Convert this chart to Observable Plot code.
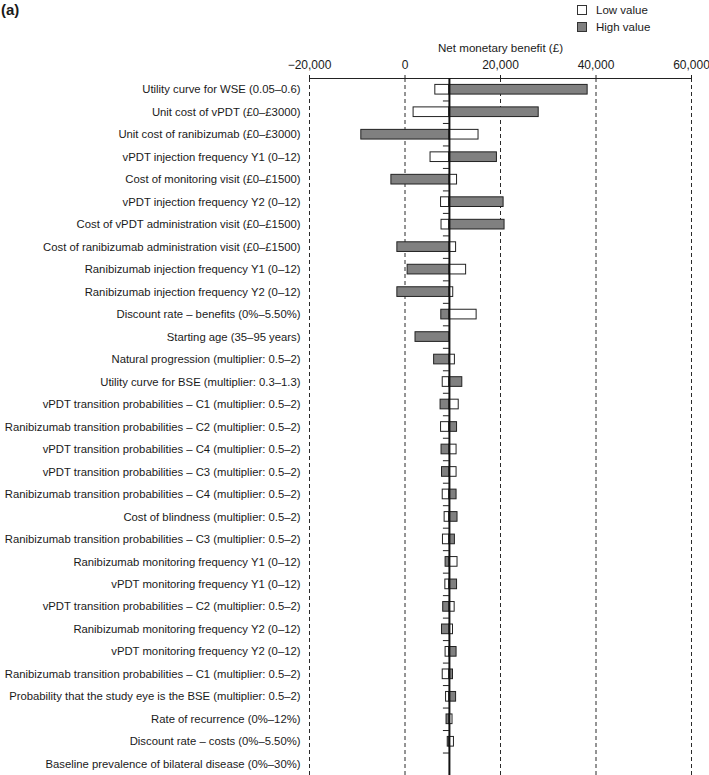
<!DOCTYPE html>
<html>
<head>
<meta charset="utf-8">
<script src="https://cdn.jsdelivr.net/npm/d3@7"></script>
<script src="https://cdn.jsdelivr.net/npm/@observablehq/plot@0.6"></script>
<style>
  body { margin: 0; background: #fff; font-family: "Liberation Sans", Arial, Helvetica, sans-serif; color: #1a1a1a; }
  #wrap { position: relative; width: 709px; height: 775px; }
  #panel { position: absolute; left: 1px; top: 1px; font-weight: bold; font-size: 15px; }
  .leg { position: absolute; left: 577px; font-size: 11.5px; display: flex; align-items: center; }
  .sw { width: 8px; height: 8px; border: 1px solid #333; margin-right: 9px; box-sizing: content-box; }
</style>
</head>
<body>
<div id="wrap">
  <div id="panel">(a)</div>
  <div class="leg" style="top:4px"><div class="sw" style="background:#fff"></div><span id="lowName"></span></div>
  <div class="leg" style="top:21px"><div class="sw" style="background:#808080"></div><span id="highName"></span></div>
</div>
<script>
const axisTitle = "Net monetary benefit (£)";
const seriesNames = ["Low value", "High value"];
const xTicks = [-20000, 0, 20000, 40000, 60000];
const baseValue = 9300;

const parameters = [
  "Utility curve for WSE (0.05–0.6)",
  "Unit cost of vPDT (£0–£3000)",
  "Unit cost of ranibizumab (£0–£3000)",
  "vPDT injection frequency Y1 (0–12)",
  "Cost of monitoring visit (£0–£1500)",
  "vPDT injection frequency Y2 (0–12)",
  "Cost of vPDT administration visit (£0–£1500)",
  "Cost of ranibizumab administration visit (£0–£1500)",
  "Ranibizumab injection frequency Y1 (0–12)",
  "Ranibizumab injection frequency Y2 (0–12)",
  "Discount rate – benefits (0%–5.50%)",
  "Starting age (35–95 years)",
  "Natural progression (multiplier: 0.5–2)",
  "Utility curve for BSE (multiplier: 0.3–1.3)",
  "vPDT transition probabilities – C1 (multiplier: 0.5–2)",
  "Ranibizumab transition probabilities – C2 (multiplier: 0.5–2)",
  "vPDT transition probabilities – C4 (multiplier: 0.5–2)",
  "vPDT transition probabilities – C3 (multiplier: 0.5–2)",
  "Ranibizumab transition probabilities – C4 (multiplier: 0.5–2)",
  "Cost of blindness (multiplier: 0.5–2)",
  "Ranibizumab transition probabilities – C3 (multiplier: 0.5–2)",
  "Ranibizumab monitoring frequency Y1 (0–12)",
  "vPDT monitoring frequency Y1 (0–12)",
  "vPDT transition probabilities – C2 (multiplier: 0.5–2)",
  "Ranibizumab monitoring frequency Y2 (0–12)",
  "vPDT monitoring frequency Y2 (0–12)",
  "Ranibizumab transition probabilities – C1 (multiplier: 0.5–2)",
  "Probability that the study eye is the BSE (multiplier: 0.5–2)",
  "Rate of recurrence (0%–12%)",
  "Discount rate – costs (0%–5.50%)",
  "Baseline prevalence of bilateral disease (0%–30%)"
];

const lowValues = [
  6350, 1800, 15400, 5350, 10900, 7550, 7650, 10700, 12800, 10100,
  15000, 9300, 10450, 7900, 11250, 7550, 10800, 10800, 7900, 8300,
  7950, 11000, 8450, 10400, 10050, 8500, 7900, 8600, 9950, 10250,
  9300
];
const highValues = [
  38250, 28000, -9150, 19250, -2850, 20650, 20850, -1600, 550, -1600,
  7600, 2200, 6100, 12000, 7450, 10900, 7650, 7750, 10800, 11000,
  10450, 8500, 10900, 8000, 7750, 10800, 10050, 10700, 8700, 8950,
  9300
];

document.getElementById("lowName").textContent = seriesNames[0];
document.getElementById("highName").textContent = seriesNames[1];

const rows = parameters.map((p, i) => ({i, p, low: lowValues[i], high: highValues[i]}));
const half = 0.215;
const W = 709, ML = 309, MR = 18;
const tickLen = 6 * (xTicks[xTicks.length - 1] - xTicks[0]) / (W - ML - MR);
const boundaries = d3.range(0.5, parameters.length, 1);

const chart = Plot.plot({
  width: W,
  height: 775,
  marginLeft: ML,
  marginRight: MR,
  marginTop: 78,
  marginBottom: 0,
  style: {fontFamily: "'Liberation Sans', Arial, Helvetica, sans-serif", fontSize: "11.3px", color: "#1a1a1a", background: "transparent"},
  x: {domain: [xTicks[0], xTicks[xTicks.length - 1]]},
  y: {domain: [-0.5, parameters.length - 0.5], reverse: true},
  marks: [
    Plot.ruleX(xTicks, {stroke: "#2a2a2a", strokeWidth: 1, strokeDasharray: "4,3"}),
    Plot.ruleY([-0.5], {stroke: "#222", strokeWidth: 1.2}),
    Plot.axisX(xTicks, {anchor: "top", tickSize: 4, tickPadding: 6, stroke: "#222", fontSize: 12, label: null, tickFormat: d3.format(",")}),
    Plot.text([axisTitle], {frameAnchor: "top", dy: -35, fontSize: 11.6, fill: "#1a1a1a"}),
    Plot.axisY(d3.range(parameters.length), {anchor: "left", tickSize: 0, tickPadding: 9, label: null, tickFormat: i => parameters[i]}),
    Plot.rectX(rows, {x1: d => baseValue, x2: "low", y1: d => d.i - half, y2: d => d.i + half, fill: "#ffffff", stroke: "#222", strokeWidth: 1}),
    Plot.rectX(rows, {x1: d => baseValue, x2: "high", y1: d => d.i - half, y2: d => d.i + half, fill: "#808080", stroke: "#222", strokeWidth: 1}),
    Plot.ruleY(boundaries, {x1: d => baseValue - tickLen, x2: d => baseValue, stroke: "#222", strokeWidth: 1}),
    Plot.ruleX([baseValue], {stroke: "#111", strokeWidth: 2})
  ]
});
document.getElementById("wrap").appendChild(chart);
chart.style.position = "absolute";
chart.style.left = "0";
chart.style.top = "0";
</script>
</body>
</html>
